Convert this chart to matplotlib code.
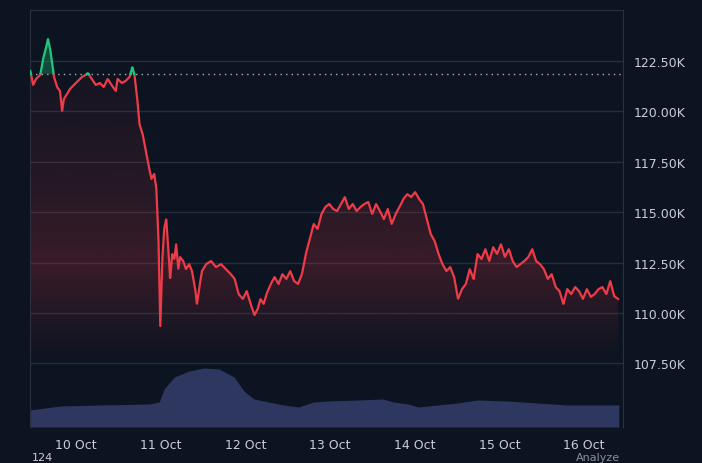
import matplotlib.pyplot as plt
import numpy as np
from matplotlib.colors import LinearSegmentedColormap

# hours since 10 Oct 00:00 and price in thousands
hours_a = [-12.9, -12.1, -11.3, -10.1, -9.3, -8.4, -7.9, -7.3, -6.8, -6.2, -5.3, -4.5, -3.9, -3.4,
           -2.5, -1.7, -0.6, 0.6, 1.7, 2.8, 3.4, 4.5, 5.6, 6.8, 7.9, 9.0, 10.1, 11.3, 11.8, 13.0,
           14.1, 15.2, 16.0, 16.6, 17.4, 18.0, 18.9, 19.7, 20.5, 21.4, 22.2, 22.8, 23.4, 23.9,
           24.5, 25.0, 25.6, 26.2, 26.7, 27.3, 27.9, 28.4, 29.0, 29.5, 30.4, 31.2, 32.1, 32.9,
           33.8, 34.3, 34.9, 35.7, 36.9, 38.3, 39.7, 41.1, 42.5, 43.9, 45.0, 46.1, 47.3, 48.4,
           49.5, 50.6, 51.5, 52.3, 53.2, 54.0, 55.2]
price = [122.00, 121.31, 121.61, 121.81, 122.60, 123.19, 123.59, 123.10, 122.50, 121.71, 121.21,
         121.01, 120.02, 120.62, 120.86, 121.11, 121.31, 121.51, 121.71, 121.81, 121.90, 121.61,
         121.31, 121.41, 121.21, 121.61, 121.31, 121.01, 121.61, 121.41, 121.51, 121.71, 122.20,
         121.81, 120.62, 119.38, 118.88, 118.14, 117.39, 116.65, 116.90, 116.15, 113.67, 109.31,
         112.68, 114.17, 114.66, 113.17, 111.69, 112.93, 112.68, 113.42, 112.18, 112.78, 112.58,
         112.18, 112.43, 112.08, 111.19, 110.45, 111.19, 112.08, 112.43, 112.58, 112.28, 112.43,
         112.18, 111.93, 111.69, 110.94, 110.70, 111.09, 110.45, 109.90, 110.20, 110.70, 110.45,
         110.94, 111.44,
         111.79, 111.44, 111.93, 111.69, 112.08, 111.59, 111.44, 111.93, 112.93, 113.67, 114.42,
         114.17, 114.91, 115.26, 115.41, 115.16, 115.06, 115.41, 115.75, 115.16, 115.41, 115.06,
         115.26, 115.41, 115.51, 114.91, 115.41, 115.06, 114.66, 115.16, 114.42, 114.91, 115.26,
         115.66, 115.90, 115.75, 116.00, 115.66, 115.41, 114.66, 113.92, 113.57, 112.93, 112.43,
         112.08, 112.28, 111.79, 110.70, 111.19, 111.44, 112.18, 111.69, 112.93, 112.68, 113.17,
         112.58, 113.27, 112.93, 113.42, 112.78, 113.17, 112.58, 112.28, 112.43, 112.58, 112.78,
         113.17, 112.58, 112.43, 112.18, 111.69, 111.93, 111.29, 111.09, 110.45, 111.19, 110.94,
         111.29, 111.09, 110.70, 111.19, 110.80, 110.94, 111.19, 111.29, 110.94, 111.59, 110.84,
         110.70]
hours_b = list(np.linspace(56.3, 153.6, len(price) - len(hours_a)))
hours = hours_a + hours_b
baseline = 121.85

vol_hours = [-13.0, -4.5, 6.8, 20.8, 23.6, 25.0, 27.9, 32.1, 36.3, 40.5, 44.8, 47.6, 50.4, 54.6,
             58.9, 63.1, 67.3, 71.5, 80.0, 87.0, 89.9, 94.1, 96.9, 102.5, 108.2, 113.8, 122.2,
             130.7, 139.1, 151.0, 153.8]
volume = [17, 21, 22, 23, 25, 38, 50, 56, 59, 58, 50, 36, 28, 25, 22, 20, 25, 26, 27, 28, 25,
          23, 20, 22, 24, 27, 26, 24, 22, 22, 22]

bg = '#0d1421'
red = '#ef3b47'
green = '#1fc77e'

fig = plt.figure(figsize=(7.02, 4.64), dpi=100, facecolor=bg)
ax = fig.add_axes([30 / 702, 36 / 464, 593 / 702, 417 / 464])

h = np.array(hours)
p = np.array(price)
hi = np.linspace(h[0], h[-1], 3000)
pi = np.interp(hi, h, p)

# volume
ax2 = ax.twinx()
ax2.set_facecolor(bg)
ax2.fill_between(vol_hours, volume, 0, color='#2f3a63', lw=0, alpha=0.95)
ax2.set_ylim(0, 417)
ax2.set_axis_off()
ax.set_zorder(ax2.get_zorder() + 1)
ax.patch.set_visible(False)

# gradient under red line
poly = ax.fill_between(hi, np.minimum(pi, baseline), 104.35, color='none', lw=0)
cmap = LinearSegmentedColormap.from_list('g', [(0.93, 0.23, 0.28, 0), (0.93, 0.23, 0.28, 1)])
gy = np.linspace(107.5, baseline, 256)
galpha = np.interp(gy, [107.5, 112.5, 116, baseline], [0.0, 0.2, 0.12, 0.04]).reshape(-1, 1)
im = ax.imshow(galpha, aspect='auto', cmap=cmap, vmin=0, vmax=1, origin='lower',
               extent=[-13, 155, 107.5, baseline], zorder=1)
im.set_clip_path(poly.get_paths()[0], transform=ax.transData)
ax.set_xlim(-13, 155)
ax.set_ylim(104.35, 125.03)

ax.fill_between(hi, pi, baseline, where=pi > baseline, color=green, alpha=0.3, lw=0,
                interpolate=True, zorder=2)

for y in [107.5, 110, 112.5, 115, 117.5, 120, 122.5]:
    ax.axhline(y, color='#262d3b', lw=1, zorder=0.5)
ax.axhline(baseline, color='#aab0bb', lw=1, ls=(0, (1, 3)), zorder=2)

red_p = np.where(pi <= baseline, pi, np.nan)
green_p = np.where(pi >= baseline, pi, np.nan)
ax.plot(hi, red_p, color=red, lw=1.6, zorder=3)
ax.plot(hi, green_p, color=green, lw=1.6, zorder=3)

ax.yaxis.tick_right()
ax.set_yticks([107.5, 110, 112.5, 115, 117.5, 120, 122.5])
ax.set_yticklabels(['107.50K', '110.00K', '112.50K', '115.00K', '117.50K', '120.00K', '122.50K'])
ax.set_xticks([0, 24, 48, 72, 96, 120, 144])
ax.set_xticklabels(['10 Oct', '11 Oct', '12 Oct', '13 Oct', '14 Oct', '15 Oct', '16 Oct'])
ax.tick_params(colors='#c9ced6', labelsize=9, length=0, pad=8)
for s in ax.spines.values():
    s.set_color('#2a3140')
ax.spines['bottom'].set_visible(False)

fig.text(32 / 702, 6 / 464, '124', color='#c9ced6', fontsize=8, va='center')
fig.text(620 / 702, 6 / 464, 'Analyze', color='#8a909a', fontsize=8, ha='right', va='center')

fig.savefig('out.png', dpi=100, facecolor=bg)
